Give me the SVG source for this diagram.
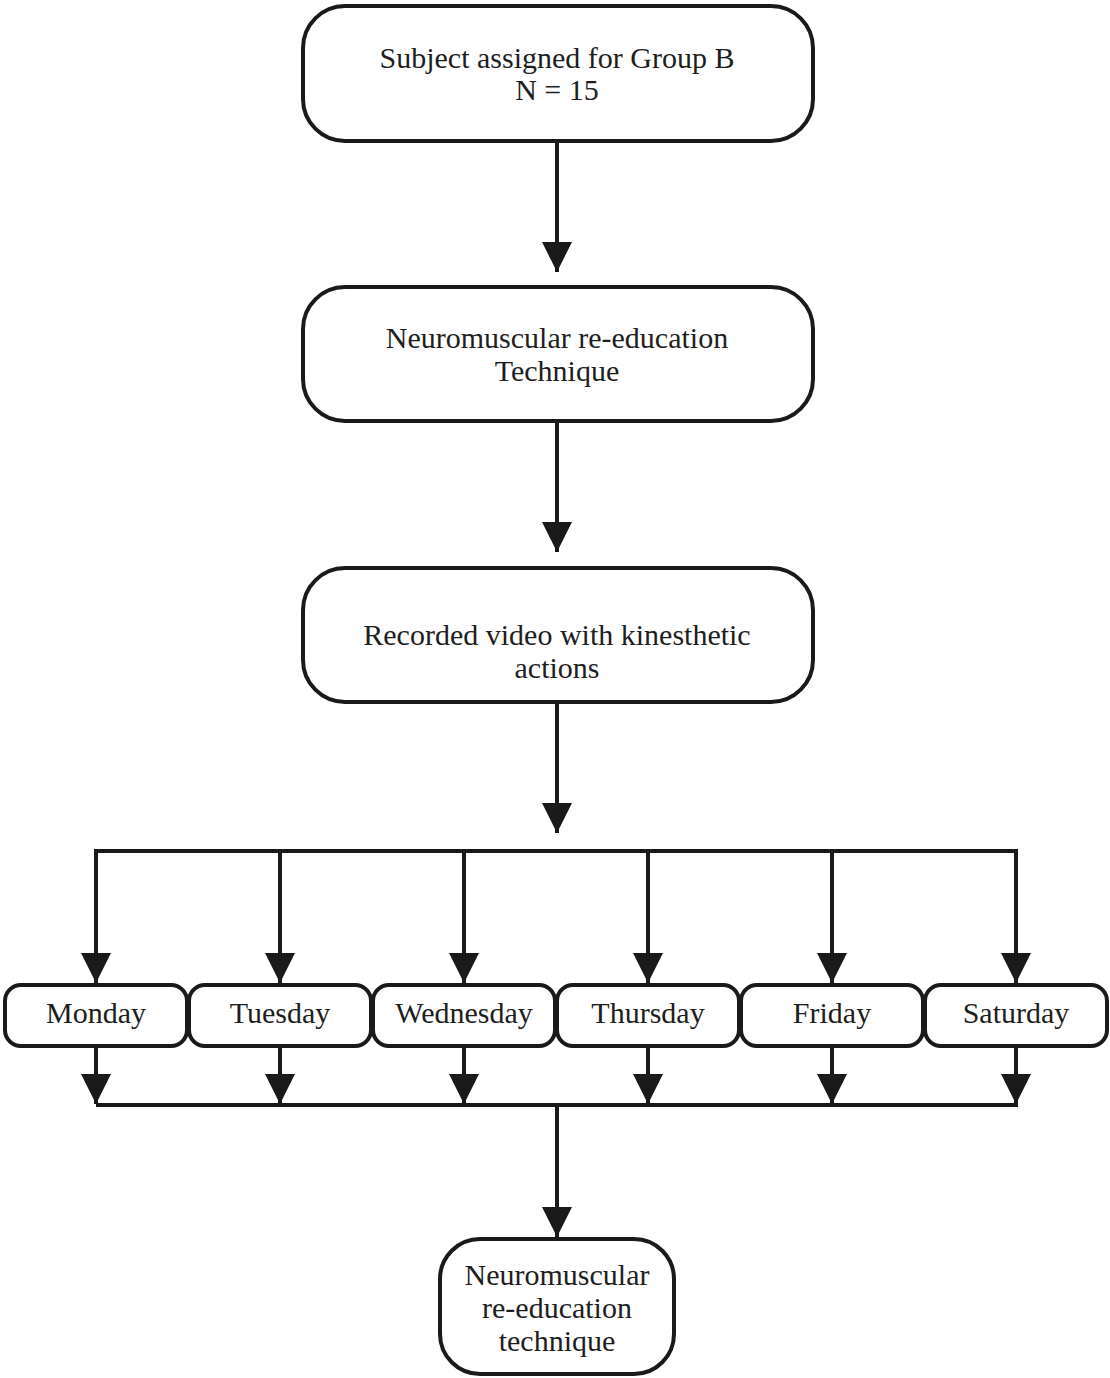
<svg xmlns="http://www.w3.org/2000/svg" width="1110" height="1378" viewBox="0 0 1110 1378">
<style>
.box{fill:#fff;stroke:#1a1a1a;stroke-width:4}
.t{font-family:"Liberation Serif","Times New Roman",serif;font-size:30px;fill:#1e1e1e;text-anchor:middle}
.ln{fill:none;stroke:#1a1a1a;stroke-width:4}
</style>
<defs>
<marker id="ah" markerUnits="userSpaceOnUse" markerWidth="30" markerHeight="32" viewBox="0 0 30 32" refX="30" refY="15" orient="auto">
<path d="M0,0 L30,15 L0,30 Z" fill="#1a1a1a"/>
</marker>
</defs>
<g id="connectors">
<path class="ln" d="M557,141 V272" marker-end="url(#ah)"/>
<path class="ln" d="M557,421 V552" marker-end="url(#ah)"/>
<path class="ln" d="M557,702 V833" marker-end="url(#ah)"/>
<path class="ln" d="M96,851 H1017"/>
<path class="ln" d="M96,849 V983" marker-end="url(#ah)"/>
<path class="ln" d="M280,851 V983" marker-end="url(#ah)"/>
<path class="ln" d="M464,851 V983" marker-end="url(#ah)"/>
<path class="ln" d="M648,851 V983" marker-end="url(#ah)"/>
<path class="ln" d="M832,851 V983" marker-end="url(#ah)"/>
<path class="ln" d="M1016,849 V983" marker-end="url(#ah)"/>
<path class="ln" d="M96,1046 V1104" marker-end="url(#ah)"/>
<path class="ln" d="M280,1046 V1104" marker-end="url(#ah)"/>
<path class="ln" d="M464,1046 V1104" marker-end="url(#ah)"/>
<path class="ln" d="M648,1046 V1104" marker-end="url(#ah)"/>
<path class="ln" d="M832,1046 V1104" marker-end="url(#ah)"/>
<path class="ln" d="M1016,1046 V1104" marker-end="url(#ah)"/>
<path class="ln" d="M96,1105 H1018"/>
<path class="ln" d="M557,1105 V1237" marker-end="url(#ah)"/>
</g>
<g id="n1"><rect class="box" x="303" y="6" width="510" height="135" rx="42"/>
<text class="t" x="557" y="68">Subject assigned for Group B</text><text class="t" x="557" y="100">N = 15</text></g>
<g id="n2"><rect class="box" x="303" y="287" width="510" height="134" rx="42"/>
<text class="t" x="557" y="348">Neuromuscular re-education</text><text class="t" x="557" y="381">Technique</text></g>
<g id="n3"><rect class="box" x="303" y="568" width="510" height="134" rx="42"/>
<text class="t" x="557" y="645">Recorded video with kinesthetic</text><text class="t" x="557" y="678">actions</text></g>
<g id="d1"><rect class="box" x="5" y="985" width="182" height="61" rx="16"/><text class="t" x="96" y="1023">Monday</text></g>
<g id="d2"><rect class="box" x="189" y="985" width="182" height="61" rx="16"/><text class="t" x="280" y="1023">Tuesday</text></g>
<g id="d3"><rect class="box" x="373" y="985" width="182" height="61" rx="16"/><text class="t" x="464" y="1023">Wednesday</text></g>
<g id="d4"><rect class="box" x="557" y="985" width="182" height="61" rx="16"/><text class="t" x="648" y="1023">Thursday</text></g>
<g id="d5"><rect class="box" x="741" y="985" width="182" height="61" rx="16"/><text class="t" x="832" y="1023">Friday</text></g>
<g id="d6"><rect class="box" x="925" y="985" width="182" height="61" rx="16"/><text class="t" x="1016" y="1023">Saturday</text></g>
<g id="n4"><rect class="box" x="440" y="1239" width="234" height="135" rx="40"/>
<text class="t" x="557" y="1285">Neuromuscular</text><text class="t" x="557" y="1318">re-education</text><text class="t" x="557" y="1351">technique</text></g>
</svg>
